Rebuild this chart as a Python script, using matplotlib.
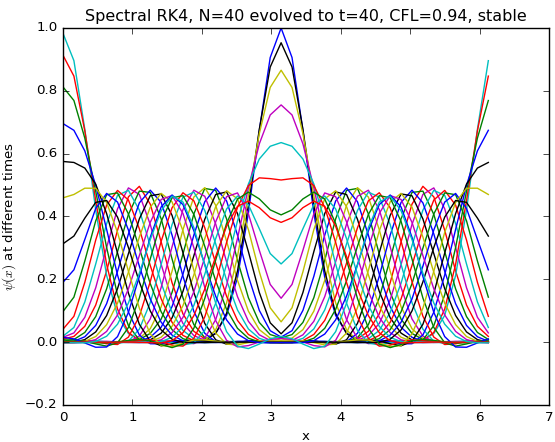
import numpy as np
import matplotlib
matplotlib.use("Agg")
import matplotlib.pyplot as plt

plt.style.use("classic")
plt.rcParams["font.size"] = 9.6
plt.rcParams["axes.titlesize"] = 11.5

# run parameters (from the title)
n_points = 40
cfl = 0.94
t_end = 40.0
steps_per_snapshot = 7

# t=0 curve: grid offsets from x=pi and values
pulse_offsets = [-8, -7, -6, -5, -4, -3, -2, -1, 0, 1, 2, 3, 4, 5, 6, 7, 8]
pulse_values = [0.002, 0.008, 0.029, 0.085, 0.206, 0.411, 0.674, 0.906, 1.0,
                0.906, 0.674, 0.411, 0.206, 0.085, 0.029, 0.008, 0.002]

x = np.arange(n_points) * 2 * np.pi / n_points
dx = x[1]
dt = cfl * dx
nsteps = int(round(t_end / dt))

u = np.zeros(n_points)
u[n_points // 2 + np.array(pulse_offsets)] = pulse_values
v = np.zeros(n_points)

k = np.fft.rfftfreq(n_points, d=dx / (2 * np.pi))
k[-1] = 0.0  # drop the Nyquist mode


def d2(f):
    return np.fft.irfft(-(k ** 2) * np.fft.rfft(f), n_points)


def rhs(f, g):
    return g, d2(f)


snapshots = [u.copy()]
for step in range(1, nsteps + 1):
    k1u, k1v = rhs(u, v)
    k2u, k2v = rhs(u + 0.5 * dt * k1u, v + 0.5 * dt * k1v)
    k3u, k3v = rhs(u + 0.5 * dt * k2u, v + 0.5 * dt * k2v)
    k4u, k4v = rhs(u + dt * k3u, v + dt * k3v)
    u = u + dt / 6 * (k1u + 2 * k2u + 2 * k3u + k4u)
    v = v + dt / 6 * (k1v + 2 * k2v + 2 * k3v + k4v)
    if step % steps_per_snapshot == 0:
        snapshots.append(u.copy())

fig = plt.figure(figsize=(5.55, 4.42), dpi=100, facecolor="w")
ax = fig.add_axes([63 / 555, 1 - 405 / 442, 486 / 555, 377 / 442])
for snap in snapshots:
    ax.plot(x, snap)

ax.set_xlim(0, 7)
ax.set_ylim(-0.2, 1.0)
ax.set_title("Spectral RK4, N=40 evolved to t=40, CFL=0.94, stable")
ax.set_xlabel("x")
ax.set_ylabel(r"$\psi(x)$ at different times")

fig.savefig("out.png", dpi=100, facecolor="w")
